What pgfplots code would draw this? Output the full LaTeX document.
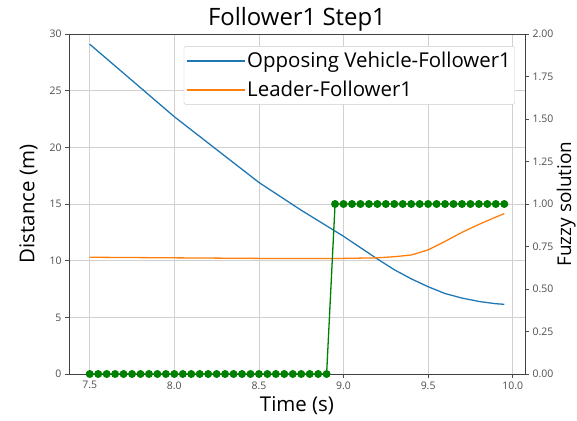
\documentclass[border=0pt]{standalone}
\usepackage{pgfplots}
\pgfplotsset{compat=1.18}
\usepackage{pgfplotstable}
\usepackage{fontspec}
\setmainfont{Open Sans}

\definecolor{tabblue}{HTML}{1F77B4}
\definecolor{taborange}{HTML}{FF7F0E}
\definecolor{mplgreen}{HTML}{008000}

% distance between the opposing vehicle and follower 1 (m)
\pgfplotstableread{
t d
7.50 29.10
7.75 25.90
8.00 22.70
8.25 19.80
8.50 16.90
8.75 14.45
9.00 12.15
9.10 11.15
9.20 10.15
9.30 9.20
9.40 8.40
9.50 7.70
9.60 7.10
9.70 6.70
9.80 6.40
9.90 6.20
9.95 6.15
}\opposing

% distance between the leader and follower 1 (m)
\pgfplotstableread{
t d
7.50 10.30
8.00 10.25
8.50 10.20
9.00 10.20
9.20 10.25
9.30 10.35
9.40 10.50
9.50 10.95
9.60 11.70
9.70 12.50
9.80 13.20
9.90 13.85
9.95 14.15
}\leader

% fuzzy controller output
\pgfplotstableread{
t f
7.50 0
7.55 0
7.60 0
7.65 0
7.70 0
7.75 0
7.80 0
7.85 0
7.90 0
7.95 0
8.00 0
8.05 0
8.10 0
8.15 0
8.20 0
8.25 0
8.30 0
8.35 0
8.40 0
8.45 0
8.50 0
8.55 0
8.60 0
8.65 0
8.70 0
8.75 0
8.80 0
8.85 0
8.90 0
8.95 1
9.00 1
9.05 1
9.10 1
9.15 1
9.20 1
9.25 1
9.30 1
9.35 1
9.40 1
9.45 1
9.50 1
9.55 1
9.60 1
9.65 1
9.70 1
9.75 1
9.80 1
9.85 1
9.90 1
9.95 1
}\fuzzy

\pgfplotsset{
  common/.style={
    scale only axis,
    width=456bp, height=340bp,
    xmin=7.3775, xmax=10.0725,
    tick align=outside,
    major tick length=4bp,
    every tick/.style={black!70, line width=0.6pt},
    tick label style={font=\fontsize{10.5}{11}\selectfont, text=black!70},
    label style={font=\fontsize{20.5}{22}\selectfont},
    axis line style={black!75, line width=0.8pt},
    /pgf/number format/assume math mode=true,
  },
}

\begin{document}
\begin{tikzpicture}
\begin{axis}[
  common,
  name=main,
  ymin=0, ymax=30,
  xtick={7.5,8,8.5,9,9.5,10},
  ytick={0,5,10,15,20,25,30},
  xticklabel style={/pgf/number format/.cd, fixed, fixed zerofill, precision=1},
  axis y line*=left,
  axis x line*=bottom,
  grid=major,
  grid style={black!18, line width=0.7pt},
  xlabel={Time (s)},
  ylabel={Distance (m)},
  ylabel shift=5bp,
  title={Follower1 Step1},
  title style={font=\fontsize{24}{26}\selectfont, yshift=-7bp},
  legend style={
    at={(0.978,0.964)}, anchor=north east,
    draw=black!20, rounded corners=2bp,
    font=\fontsize{20.5}{22}\selectfont,
    row sep=8bp, inner xsep=2bp, inner ysep=4bp,
  },
  legend cell align=left,
  legend image code/.code={%
    \draw[mark repeat=2, mark phase=2, #1]
      plot coordinates {(0bp,0bp) (21bp,0bp) (42bp,0bp)};
    \path (0bp,0bp) -- (58bp,0bp);
  },
]
\addplot[tabblue, line width=1.3pt] table[x=t, y=d] {\opposing};
\addlegendentry{Opposing Vehicle-Follower1}
\addplot[taborange, line width=1.3pt] table[x=t, y=d] {\leader};
\addlegendentry{Leader-Follower1}
\draw[black!75, line width=0.8pt] (rel axis cs:0,1) -- (rel axis cs:1,1);
\end{axis}

\begin{axis}[
  common,
  ymin=0, ymax=2,
  ytick={0,0.25,0.5,0.75,1,1.25,1.5,1.75,2},
  yticklabel style={/pgf/number format/.cd, fixed, fixed zerofill, precision=2},
  axis y line*=right,
  axis x line=none,
]
\addplot[mplgreen, line width=1.3pt, mark=*, mark size=3.3bp,
  mark options={fill=mplgreen, draw=mplgreen}] table[x=t, y=f] {\fuzzy};
\end{axis}

% right-hand axis title, set close to the page edge
\node[xshift=46bp, rotate=90, anchor=base, font=\fontsize{19}{21}\selectfont]
  at (main.east) {Fuzzy solution};

\pgfresetboundingbox
\path[use as bounding box] ([shift={(-69bp,-47bp)}]main.south west)
  rectangle ([shift={(508bp,374bp)}]main.south west);
\end{tikzpicture}
\end{document}
